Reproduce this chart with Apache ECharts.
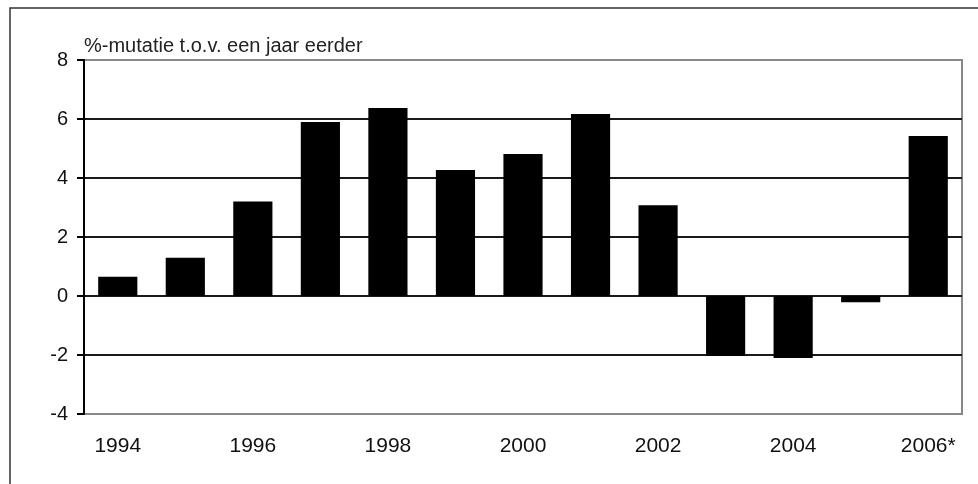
<!DOCTYPE html>
<html><head><meta charset="utf-8">
<script src="https://cdn.jsdelivr.net/npm/echarts@6/dist/echarts.min.js"></script>
<style>html,body{margin:0;padding:0;background:#fff}#c{width:978px;height:484px}</style>
</head><body><div id="c"></div>
<script>
var categories = ['1994','1995','1996','1997','1998','1999','2000','2001','2002','2003','2004','2005','2006*'];
var values = [0.65, 1.3, 3.2, 5.9, 6.37, 4.27, 4.81, 6.17, 3.08, -2.03, -2.1, -0.21, 5.42];
var titleText = '%-mutatie t.o.v. een jaar eerder';
var chart = echarts.init(document.getElementById('c'), null, {renderer:'canvas'});
chart.setOption({
  animation: false,
  backgroundColor: '#fff',
  title: {text: titleText, left: 79, top: 31,
    textStyle: {fontFamily: 'Liberation Sans, Arial, sans-serif', fontSize: 20, fontWeight: 'normal', color: '#222'}},
  graphic: [{type: 'rect', shape: {x: 10, y: 8, width: 1100, height: 600},
    style: {fill: 'none', stroke: '#333', lineWidth: 1.5}, silent: true, z: -1}],
  grid: {left: 84, right: 16, top: 60, bottom: 70, show: true, borderColor: '#888', borderWidth: 2, backgroundColor: 'transparent'},
  xAxis: {type: 'category', data: categories,
    axisLine: {show: false}, axisTick: {show: false},
    axisLabel: {interval: 1, margin: 22, color: '#111', fontSize: 21, fontFamily: 'Liberation Sans, Arial, sans-serif'},
    splitLine: {show: false}},
  yAxis: {type: 'value', min: -4, max: 8, interval: 2,
    axisLine: {show: true, lineStyle: {color: '#000', width: 2}},
    axisTick: {show: true, length: 7, lineStyle: {color: '#000', width: 2}},
    axisLabel: {margin: 16, color: '#111', fontSize: 20, fontFamily: 'Liberation Sans, Arial, sans-serif'},
    splitLine: {show: true, lineStyle: {color: ['#888','#1a1a1a','#1a1a1a','#1a1a1a','#1a1a1a','#1a1a1a','#888'], width: 2}}},
  series: [{type: 'bar', data: values, barCategoryGap: '42%',
    itemStyle: {color: '#000'}, z: 1}]
});
</script></body></html>
